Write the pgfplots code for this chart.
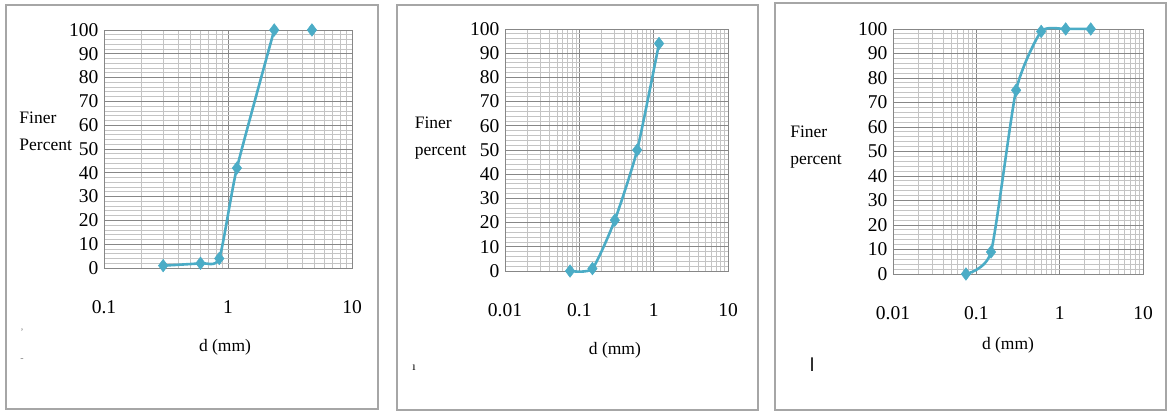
\documentclass[border=0pt]{standalone}
\usepackage{fontspec}
\setmainfont{Liberation Serif}
\newfontfamily\arabicfont[Script=Arabic]{DejaVu Sans}
\TeXXeTstate=1
\usepackage{pgfplots}
\pgfplotsset{compat=1.18}
\definecolor{serie}{HTML}{4BACC6}
\definecolor{majgrid}{HTML}{878787}
\definecolor{mingrid}{HTML}{C4C4C4}
\definecolor{frame}{HTML}{A6A6A6}
\pgfplotsset{
  /pgfplots/mypanel/.style={
    scale only axis,
    ymin=0, ymax=100,
    ytick={0,10,...,100},
    minor y tick num=4,
    xmajorgrids, xminorgrids, ymajorgrids, yminorgrids,
    major grid style={majgrid, line width=0.9pt},
    minor grid style={mingrid, line width=0.8pt},
    axis line style={majgrid, line width=0.9pt},
    major tick length=0pt, minor tick length=0pt,
    tick label style={font=\rmfamily\fontsize{19.5}{20}\selectfont},
    /pgf/number format/assume math mode=true,
    xticklabel style={yshift=-29pt},
    yticklabel style={xshift=-2pt},
    clip=false,
  },
  /pgfplots/curve/.style={serie, line width=2.6pt, smooth, tension=0.35, mark=diamond*, mark size=6.3pt, mark options={serie, fill=serie, line width=0.5pt}},
}
\begin{document}
\begin{tikzpicture}
\path[use as bounding box] (0pt,0pt) rectangle (1168pt,412pt);
\draw[frame, line width=1.3pt] (6pt,3pt) rectangle (378pt,407pt);
\draw[frame, line width=1.3pt] (397pt,2pt) rectangle (758pt,407pt);
\draw[frame, line width=1.3pt] (775pt,2pt) rectangle (1166pt,409pt);

% Panel 1
\begin{axis}[xmode=log, mypanel, at={(104pt,144pt)}, anchor=south west, width=248pt, height=238pt,
  xmin=0.1, xmax=10, xtick={0.1,1,10}, xticklabels={0.1,1,10},
  xlabel={d (mm)}, xlabel style={font=\fontsize{17.5}{20}\selectfont, at={(axis description cs:0.488,-0.332)}, anchor=center},
  ylabel={Finer\\Percent}, ylabel style={font=\fontsize{17.5}{27}\selectfont, align=left, rotate=-90, at={(axis description cs:-0.355,0.576)}, anchor=west},
]
\addplot[curve] coordinates {(0.3,1) (0.6,2) (0.85,4) (1.18,42) (2.36,100)};
\addplot[curve, only marks] coordinates {(4.75,100)};
\end{axis}

% Panel 2
\begin{axis}[xmode=log, mypanel, at={(505pt,141pt)}, anchor=south west, width=223pt, height=242pt,
  xmin=0.01, xmax=10, xtick={0.01,0.1,1,10}, xticklabels={0.01,0.1,1,10},
  xlabel={d (mm)}, xlabel style={font=\fontsize{17.5}{20}\selectfont, at={(axis description cs:0.493,-0.326)}, anchor=center},
  ylabel={Finer\\percent}, ylabel style={font=\fontsize{17.5}{27}\selectfont, align=left, rotate=-90, at={(axis description cs:-0.42,0.55)}, anchor=west},
]
\addplot[curve] coordinates {(0.075,0) (0.15,1) (0.3,21) (0.6,50) (1.18,94)};
\end{axis}

% Panel 3
\begin{axis}[xmode=log, mypanel, at={(893pt,138pt)}, anchor=south west, width=250pt, height=245pt,
  xmin=0.01, xmax=10, xtick={0.01,0.1,1,10}, xticklabels={0.01,0.1,1,10},
  xlabel={d (mm)}, xlabel style={font=\fontsize{17.5}{20}\selectfont, at={(axis description cs:0.46,-0.29)}, anchor=center},
  ylabel={Finer\\percent}, ylabel style={font=\fontsize{17.5}{27}\selectfont, align=left, rotate=-90, at={(axis description cs:-0.425,0.52)}, anchor=west},
]
\addplot[curve] coordinates {(0.075,0) (0.15,9) (0.3,75) (0.6,99) (1.18,100) (2.36,100)};
\end{axis}
\node[font=\fontsize{10}{10}\selectfont, gray] at (22pt,80pt) {'};
\node[font=\fontsize{10}{10}\selectfont, gray] at (22pt,52pt) {-};
\node[font=\fontsize{12}{12}\selectfont] at (414pt,44pt) {ı};
\node[font=\fontsize{18}{18}\selectfont] at (812pt,47pt) {\arabicfont\beginR ا\endR};
\end{tikzpicture}
\end{document}
